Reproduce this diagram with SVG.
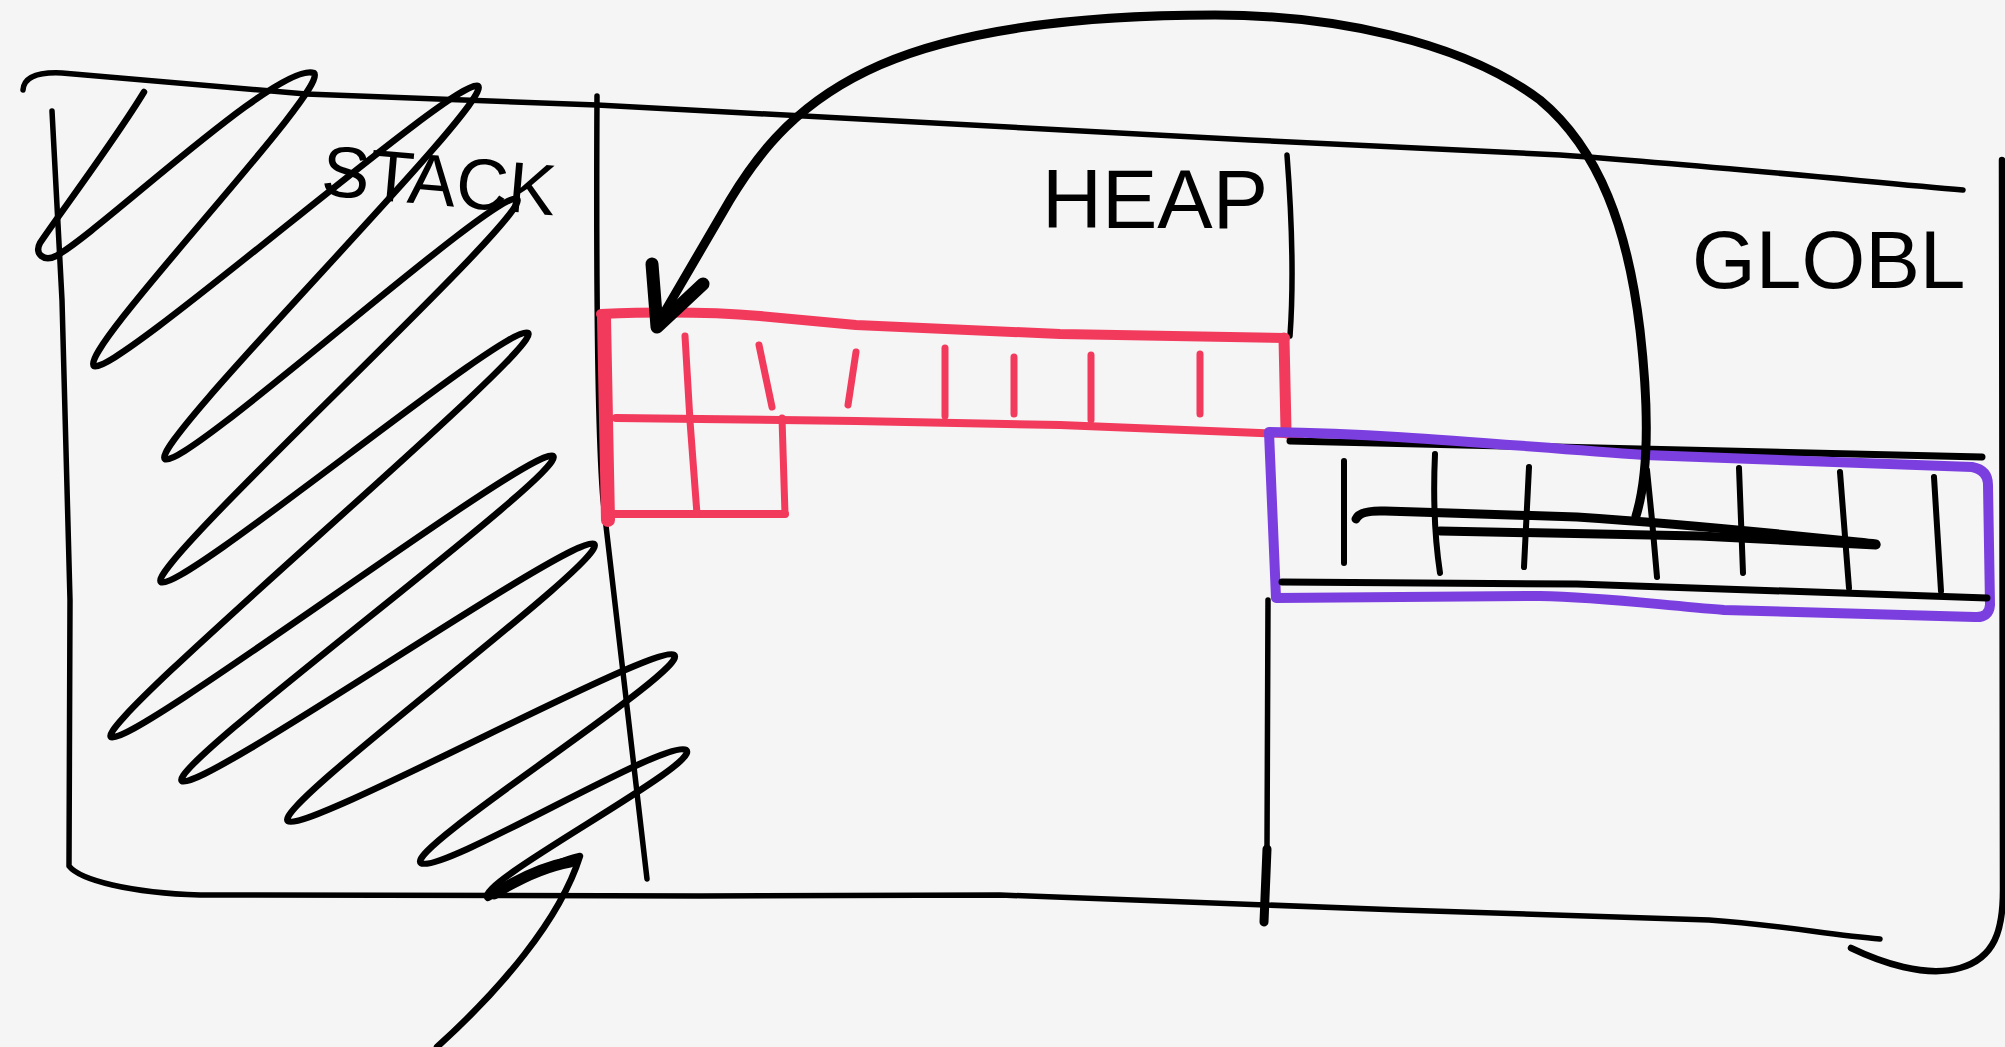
<svg xmlns="http://www.w3.org/2000/svg" width="2005" height="1047" viewBox="0 0 2005 1047">
<style>
.ink{fill:none;stroke:#000;stroke-linecap:round;stroke-linejoin:round}
.red{fill:none;stroke:#F23A5C;stroke-linecap:round;stroke-linejoin:round}
.pur{fill:none;stroke:#7B3FE0;stroke-linecap:round;stroke-linejoin:round}
.lbl{font-family:"Liberation Sans",Arial,sans-serif;fill:#000}
</style>
<rect width="2005" height="1047" fill="#F5F5F5"/>
<g id="frame">
<path class="ink" stroke-width="5.5" d="M23,90 C24,76 40,72 62,73 L306,94 L597,105 L1250,140 L1560,155 C1700,165 1850,180 1963,190"/>
<path class="ink" stroke-width="5.5" d="M52,111 L62,300 L70,600 L69,866 C80,880 130,893 200,895 L700,896 L1000,895 L1400,910 L1709,920 C1780,925 1830,935 1880,939"/>
<path class="ink" stroke-width="6.5" d="M1851,948 C1880,962 1925,978 1960,968 C1995,958 2003,930 2003,890 L2002,160"/>
<path class="ink" stroke-width="5.5" d="M597,96 C596,300 598,440 603,500 L647,879"/>
<path class="ink" stroke-width="5.5" d="M1287,155 C1292,220 1294,280 1290,336"/>
<path class="ink" stroke-width="5.5" d="M1268,600 L1267,849"/>
<path class="ink" stroke-width="9" d="M1267,849 L1264,922"/>
</g>
<g id="stack">
<path class="ink" stroke-width="6.5" d="M144,92 C115,140 55,220 40,243 C34,254 44,262 56,256 C100,232 280,60 314,73 C332,86 76,353 94,366 C112,379 460,73 478,86 C496,99 147,446 165,459 C183,472 499,186 517,199 C535,212 143,569 161,582 C179,595 510,320 528,333 C546,346 93,724 111,737 C129,750 535,443 553,456 C571,469 164,768 182,781 C200,794 576,531 594,544 C612,557 270,808 288,821 C306,834 656,642 674,655 C692,668 403,850 421,863 C439,876 668,737 686,750 C704,763 470,885 488,898 C520,880 560,860 580,856 C560,920 500,990 437,1047"/>
<path class="ink" stroke-width="11" d="M494,894 C520,878 548,866 570,862"/>
<text class="lbl" x="320" y="195" font-size="72" transform="rotate(5 320 195)">STACK</text>
</g>
<g id="heap">
<text class="lbl" x="1042" y="228" font-size="83">HEAP</text>
<path class="red" stroke-width="10" d="M601,314 C650,312 700,311 760,316 L856,325 L1060,334 L1285,338"/>
<path class="red" stroke-width="8" d="M616,418 L856,421 L1060,425 L1285,434 L1300,439"/>
<path class="red" stroke-width="14" d="M604,318 L606,420 L608,520"/>
<path class="red" stroke-width="11" d="M1284,338 L1286,430"/>
<path class="red" stroke-width="8" d="M612,514 L785,514"/>
<path class="red" stroke-width="7" d="M685,336 L690,421 L697,514 M782,418 L785,514 M759,345 L772,407 M856,352 L848,405 M945,348 L945,416 M1014,357 L1014,414 M1091,355 L1091,420 M1200,354 L1200,414"/>
</g>
<g id="global">
<text class="lbl" x="1692" y="288" font-size="82">GLOBL</text>
<path class="ink" stroke-width="7" d="M1290,441 L1640,449 L1982,457"/>
<path class="pur" stroke-width="10" d="M1269,432 C1400,434 1500,445 1645,455 L1972,467 Q1988,470 1988,485 L1990,605 Q1989,618 1975,617 L1724,610 C1650,604 1600,597 1540,596 L1276,598 Z"/>
<path class="ink" stroke-width="7" d="M1282,582 L1577,584 L1987,598"/>
<path class="ink" stroke-width="6" d="M1344,461 L1344,563 M1435,454 Q1432,520 1440,573 M1529,467 L1524,567 M1647,470 L1652,520 L1657,577 M1739,468 L1743,573 M1840,472 L1849,588 M1934,477 L1941,591"/>
<path class="ink" stroke-width="9" d="M1356,519 Q1360,510 1385,511 L1577,517 C1700,525 1800,536 1876,544"/>
<path class="ink" stroke-width="9" d="M1440,531 L1700,536 L1876,545"/>
</g>
<g id="connectors">
<path class="ink" stroke-width="9" d="M1636,516 C1650,470 1648,400 1640,330 C1628,230 1600,150 1540,100 C1460,40 1330,15 1215,15 C1080,15 960,30 880,65 C800,100 760,150 730,200 L657,325"/>
<path class="ink" stroke-width="13" d="M652,264 L657,327 L703,284"/>
</g>
</svg>
